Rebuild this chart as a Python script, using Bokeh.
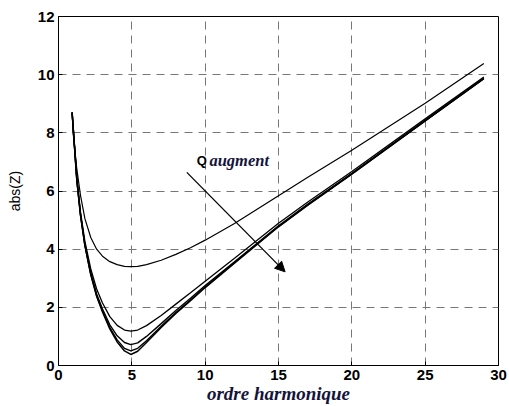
from bokeh.plotting import figure
from bokeh.models import Arrow, NormalHead, ColumnDataSource
from bokeh.core.properties import value
from bokeh.embed import file_html
from bokeh.resources import INLINE

# harmonic order (x)
h = [0.93, 1.0, 1.25, 1.5, 1.8, 2.2, 2.6, 3.0, 3.5, 4.0, 4.5, 4.93, 5.4, 6.0,
     7.0, 8.0, 9.0, 10, 12, 15, 17, 20, 25, 29]

# |Z| curves, from lowest Q (top) to highest Q (bottom)
z_q1 = [8.7, 8.0, 6.75, 5.85, 5.05, 4.4, 4.0, 3.76, 3.57, 3.47, 3.41, 3.40, 3.41, 3.47,
        3.62, 3.82, 4.05, 4.31, 4.88, 5.84, 6.47, 7.40, 9.02, 10.38]
z_q2 = [8.7, 8.23, 6.46, 5.28, 4.27, 3.32, 2.63, 2.15, 1.68, 1.38, 1.22, 1.18, 1.22, 1.37,
        1.72, 2.11, 2.50, 2.90, 3.69, 4.89, 5.62, 6.67, 8.48, 9.92]
z_q3 = [8.7, 8.18, 6.39, 5.20, 4.16, 3.18, 2.46, 1.94, 1.40, 1.02, 0.79, 0.72, 0.78, 1.00,
        1.44, 1.89, 2.31, 2.75, 3.57, 4.80, 5.55, 6.61, 8.43, 9.88]
z_q4 = [8.7, 8.17, 6.37, 5.17, 4.13, 3.14, 2.40, 1.87, 1.30, 0.88, 0.59, 0.50, 0.59, 0.85,
        1.35, 1.82, 2.25, 2.70, 3.54, 4.78, 5.52, 6.59, 8.41, 9.86]
z_q5 = [8.7, 8.16, 6.36, 5.16, 4.12, 3.12, 2.38, 1.84, 1.26, 0.81, 0.50, 0.38, 0.49, 0.79,
        1.31, 1.79, 2.23, 2.68, 3.52, 4.77, 5.51, 6.58, 8.41, 9.86]

x_ticks = [0, 5, 10, 15, 20, 25, 30]
y_ticks = [0, 2, 4, 6, 8, 10, 12]

arrow_start = (8.75, 6.64)
arrow_end = (15.45, 3.22)
label_q = "Q"
label_aug = "augment"

p = figure(width=509, height=406, x_range=(0, 30), y_range=(0, 12),
           output_backend="svg", toolbar_location=None,
           min_border_left=58, min_border_right=11, min_border_top=16, min_border_bottom=41)
p.background_fill_color = "white"
p.border_fill_color = "white"
p.outline_line_color = "black"
p.outline_line_width = 1

for ax in (p.xaxis[0], p.yaxis[0]):
    ax.major_tick_in = 4
    ax.major_tick_out = 0
    ax.minor_tick_line_color = None
    ax.axis_line_color = "black"
    ax.major_label_text_font = "Liberation Sans"
    ax.major_label_text_font_style = "bold"
    ax.major_label_text_font_size = "15px"
    ax.major_label_text_color = "black"
    ax.major_label_standoff = 4

p.xaxis.ticker = x_ticks
p.yaxis.ticker = y_ticks

p.xaxis.axis_label = "ordre harmonique"
p.xaxis.axis_label_text_font = "Liberation Serif"
p.xaxis.axis_label_text_font_style = "bold italic"
p.xaxis.axis_label_text_font_size = "19px"
p.xaxis.axis_label_text_color = "#14143a"
p.xaxis.axis_label_standoff = 0

p.yaxis.axis_label = "abs(Z)"
p.yaxis.axis_label_text_font = "Liberation Sans"
p.yaxis.axis_label_text_font_style = "normal"
p.yaxis.axis_label_text_font_size = "14px"
p.yaxis.axis_label_text_color = "black"
p.yaxis.axis_label_standoff = 12

for g in (p.xgrid[0], p.ygrid[0]):
    g.grid_line_color = "#777777"
    g.grid_line_dash = "8 6"
    g.grid_line_width = 1

src = ColumnDataSource(dict(h=h, q1=z_q1, q2=z_q2, q3=z_q3, q4=z_q4, q5=z_q5))
p.line("h", "q1", source=src, color="black", line_width=1.2)
p.line("h", "q2", source=src, color="black", line_width=1.3)
p.line("h", "q3", source=src, color="black", line_width=1.4)
p.line("h", "q4", source=src, color="black", line_width=1.4)
p.line("h", "q5", source=src, color="black", line_width=1.5)

p.add_layout(Arrow(end=NormalHead(size=10, fill_color="black", line_color="black"),
                   x_start=arrow_start[0], y_start=arrow_start[1],
                   x_end=arrow_end[0], y_end=arrow_end[1],
                   line_color="black", line_width=1.3))

p.text(x=[9.43], y=[7.06], text=[label_q], text_font=value("Liberation Sans"),
       text_font_style="bold", text_font_size="13px", text_baseline="middle",
       text_align="left", text_color="black")
p.text(x=[10.29], y=[7.06], text=[label_aug], text_font=value("Liberation Serif"),
       text_font_style="bold italic", text_font_size="16.5px", text_baseline="middle",
       text_align="left", text_color="#14143a")

open("out.html", "w").write(file_html(p, INLINE))
